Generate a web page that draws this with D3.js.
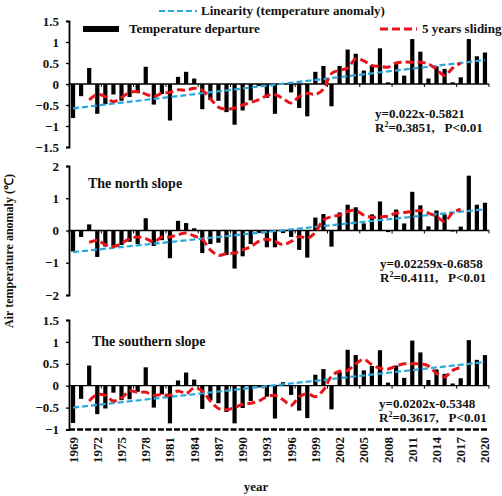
<!DOCTYPE html>
<html>
<head>
<meta charset="utf-8">
<script src="https://cdn.jsdelivr.net/npm/d3@7"></script>
<style>
  html, body { margin: 0; padding: 0; background: #fff; }
  svg text { font-family: "Liberation Serif", "Times New Roman", serif; font-weight: bold; fill: #111; }
</style>
</head>
<body>
<svg id="chart" width="502" height="496"></svg>
<script>
// ---------- DATA ----------
const years = [1969,1970,1971,1972,1973,1974,1975,1976,1977,1978,1979,1980,1981,1982,1983,1984,1985,1986,1987,1988,1989,1990,1991,1992,1993,1994,1995,1996,1997,1998,1999,2000,2001,2002,2003,2004,2005,2006,2007,2008,2009,2010,2011,2012,2013,2014,2015,2016,2017,2018,2019,2020];
const yearTickLabels = ["1969","1972","1975","1978","1981","1984","1987","1990","1993","1996","1999","2002","2005","2008","2011","2014","2017","2020"];

// whole area
const allDeparture = [-0.81,-0.29,0.38,-0.71,-0.48,-0.25,-0.4,-0.31,-0.22,0.41,-0.49,-0.24,-0.87,0.17,0.29,0.13,-0.6,-0.38,-0.4,-0.67,-0.97,-0.63,-0.39,-0.05,-0.33,-0.71,0.02,-0.2,-0.57,-0.77,0.29,0.43,-0.53,0.43,0.82,0.72,0.32,0.45,0.85,0.04,0.51,0.2,1.07,0.77,0.13,0.42,0.36,0.04,0.16,1.07,0.66,0.75];
const allSliding = [-0.38,-0.25,-0.3,-0.42,-0.32,-0.2,-0.18,-0.24,-0.3,-0.22,-0.2,-0.14,-0.15,-0.1,-0.15,-0.35,-0.55,-0.6,-0.57,-0.5,-0.44,-0.37,-0.28,-0.25,-0.35,-0.45,-0.3,-0.22,-0.25,-0.12,0.25,0.33,0.38,0.6,0.55,0.44,0.42,0.4,0.5,0.52,0.52,0.52,0.48,0.35,0.2,0.38,0.5];
const allTrend = [-0.58, 0.57];

// north slope
const northDeparture = [-0.65,-0.2,0.19,-0.82,-0.5,-0.5,-0.45,-0.35,-0.42,0.38,-0.48,-0.3,-0.86,0.3,0.23,0.07,-0.7,-0.42,-0.38,-0.76,-1.18,-0.8,-0.42,-0.08,-0.52,-0.52,-0.08,-0.2,-0.6,-0.84,0.4,0.51,-0.5,0.56,0.8,0.72,0.22,0.5,0.9,-0.05,0.65,0.22,1.2,0.78,0.13,0.62,0.5,-0.03,0.12,1.7,0.8,0.86];
const northSliding = [-0.37,-0.31,-0.44,-0.5,-0.4,-0.25,-0.2,-0.25,-0.35,-0.2,-0.2,-0.13,-0.08,-0.17,-0.28,-0.6,-0.77,-0.72,-0.7,-0.6,-0.5,-0.34,-0.27,-0.34,-0.44,-0.34,-0.19,-0.24,-0.06,0.33,0.43,0.48,0.59,0.62,0.48,0.41,0.42,0.44,0.54,0.56,0.59,0.62,0.54,0.43,0.28,0.55,0.66];
const northTrend = [-0.67, 0.66];

// southern slope
const southDeparture = [-0.85,-0.3,0.46,-0.65,-0.52,-0.16,-0.33,-0.31,-0.14,0.42,-0.5,-0.2,-0.86,0.12,0.3,0.14,-0.53,-0.33,-0.4,-0.6,-0.86,-0.51,-0.35,-0.04,-0.25,-0.75,0.08,-0.21,-0.57,-0.74,0.25,0.38,-0.54,0.32,0.82,0.7,0.35,0.45,0.81,0.07,0.46,0.18,1.03,0.76,0.13,0.37,0.27,0.05,0.17,1.04,0.59,0.7];
const southSliding = [-0.35,-0.2,-0.22,-0.35,-0.28,-0.12,-0.15,-0.15,-0.22,-0.2,-0.22,-0.12,-0.18,-0.05,-0.12,-0.35,-0.52,-0.55,-0.5,-0.42,-0.4,-0.35,-0.25,-0.22,-0.32,-0.45,-0.25,-0.18,-0.25,-0.1,0.22,0.33,0.35,0.5,0.6,0.48,0.4,0.38,0.45,0.5,0.5,0.5,0.45,0.28,0.2,0.35,0.42];
const southTrend = [-0.5, 0.54];

const slidingStartYear = 1971;

const legendLabels = ["Linearity (temperature anomaly)", "Temperature departure", "5 years sliding"];
const panelTitles = ["", "The north slope", "The southern slope"];
const equations = ["y=0.022x-0.5821", "y=0.02259x-0.6858", "y=0.0202x-0.5348"];
const rSquared = ["0.3851", "0.4111", "0.3617"];
const pText = "P<0.01";

const ticks1 = [-1.5,-1,-0.5,0,0.5,1,1.5];
const ticks2 = [-2,-1,0,1,2];
const ticks3 = [-1,-0.5,0,0.5,1,1.5];

// ---------- LAYOUT ----------
const svg = d3.select("#chart");
const X0 = 69, X1 = 489;
const x = d3.scaleBand().domain(years).range([X0, X1]).paddingInner(0.48).paddingOuter(0.24);
const xIdx = d3.scaleLinear().domain([0, years.length]).range([X0, X1]);
const cx = d => x(d) + x.bandwidth() / 2;

const BLUE = "#29a8dc", RED = "#e8141b";

const panels = [
  { dep: allDeparture, sl: allSliding, tr: allTrend, domain: [-1.5, 1.5], range: [147, 21], ticks: ticks1,
    title: panelTitles[0], eq: equations[0], r2: rSquared[0], eqX: 375, eqY: 118, tX: 0, tY: 0 },
  { dep: northDeparture, sl: northSliding, tr: northTrend, domain: [-2, 2], range: [295, 166], ticks: ticks2,
    title: panelTitles[1], eq: equations[1], r2: rSquared[1], eqX: 380, eqY: 268, tX: 88, tY: 188 },
  { dep: southDeparture, sl: southSliding, tr: southTrend, domain: [-1, 1.5], range: [429.5, 320], ticks: ticks3,
    title: panelTitles[2], eq: equations[2], r2: rSquared[2], eqX: 379, eqY: 408, tX: 92, tY: 346 }
];

panels.forEach((p, pi) => {
  const y = d3.scaleLinear().domain(p.domain).range(p.range);
  const g = svg.append("g");
  const y0 = y(0);

  // bars
  g.selectAll("rect.bar").data(p.dep).join("rect")
    .attr("x", (d, i) => x(years[i]))
    .attr("width", x.bandwidth())
    .attr("y", d => Math.min(y(d), y0))
    .attr("height", d => Math.abs(y(d) - y0))
    .attr("fill", "#000");

  // zero axis with ticks every 4 categories
  g.append("line").attr("x1", X0).attr("x2", X1).attr("y1", y0).attr("y2", y0)
    .attr("stroke", "#000").attr("stroke-width", 1.3);
  d3.range(0, years.length + 1, 4).forEach(k => {
    g.append("line").attr("x1", xIdx(k)).attr("x2", xIdx(k)).attr("y1", y0).attr("y2", y0 + 3)
      .attr("stroke", "#000").attr("stroke-width", 1);
  });

  // y axis
  const axis = d3.axisLeft(y).tickValues(p.ticks).tickSize(3).tickPadding(7)
    .tickFormat(d => d3.format("")(d));
  const ag = g.append("g").attr("transform", `translate(${X0},0)`).call(axis);
  ag.select(".domain").attr("stroke", "#000").attr("stroke-width", 1.8);
  ag.selectAll(".tick line").attr("stroke", "#000").attr("stroke-width", 1.3);
  ag.selectAll(".tick text").attr("font-size", 13).attr("font-family", "Liberation Serif").attr("font-weight", "bold").attr("fill", "#111");

  // trend line (endpoints)
  g.append("line")
    .attr("x1", cx(years[0])).attr("y1", y(p.tr[0]))
    .attr("x2", cx(years[years.length - 1])).attr("y2", y(p.tr[1]))
    .attr("stroke", BLUE).attr("stroke-width", 2.2).attr("stroke-dasharray", "6,3");

  // 5-year sliding
  const si = years.indexOf(slidingStartYear);
  const line = d3.line().x((d, i) => cx(years[si + i])).y(d => y(d)).curve(d3.curveCatmullRom.alpha(0.5));
  g.append("path").attr("d", line(p.sl)).attr("fill", "none")
    .attr("stroke", RED).attr("stroke-width", 3).attr("stroke-dasharray", "8,4");

  // equation text
  g.append("text").attr("x", p.eqX).attr("y", p.eqY).attr("font-size", 13).text(p.eq);
  const rt = g.append("text").attr("x", p.eqX).attr("y", p.eqY + 14).attr("font-size", 13).attr("xml:space", "preserve");
  rt.append("tspan").text("R");
  rt.append("tspan").attr("font-size", 8).attr("dy", -5).text("2");
  rt.append("tspan").attr("dy", 5).text("=" + p.r2 + ",   " + pText);

  if (p.title) {
    g.append("text").attr("x", p.tX).attr("y", p.tY).attr("font-size", 14).text(p.title);
  }
});

// bottom dashed axis of last panel
{
  const p = panels[2];
  const y = d3.scaleLinear().domain(p.domain).range(p.range);
  svg.append("line").attr("x1", X0).attr("x2", X1).attr("y1", y(-1)).attr("y2", y(-1))
    .attr("stroke", "#000").attr("stroke-width", 2.6)
    .attr("stroke-dasharray", `${x.step() - 2},2`);
}

// year labels
svg.selectAll("text.year").data(yearTickLabels).join("text")
  .attr("class", "year")
  .attr("transform", d => `translate(${cx(+d) + 4.5},437) rotate(-90)`)
  .attr("text-anchor", "end")
  .attr("font-size", 13)
  .text(d => d);

// axis titles
svg.append("text").attr("x", 256).attr("y", 491).attr("text-anchor", "middle").attr("font-size", 13).text("year");
svg.append("text").attr("transform", "translate(13,251) rotate(-90)").attr("text-anchor", "middle")
  .attr("font-size", 12).text("Air temperature anomaly (℃)");

// legend
svg.append("line").attr("x1", 159).attr("x2", 197).attr("y1", 11).attr("y2", 11)
  .attr("stroke", BLUE).attr("stroke-width", 2.2).attr("stroke-dasharray", "6,3");
svg.append("text").attr("x", 201).attr("y", 15).attr("font-size", 13).text(legendLabels[0]);
svg.append("rect").attr("x", 83).attr("y", 26).attr("width", 36).attr("height", 6).attr("fill", "#000");
svg.append("text").attr("x", 129).attr("y", 33).attr("font-size", 13).text(legendLabels[1]);
svg.append("line").attr("x1", 380).attr("x2", 417).attr("y1", 29).attr("y2", 29)
  .attr("stroke", RED).attr("stroke-width", 3).attr("stroke-dasharray", "8,4");
svg.append("text").attr("x", 422).attr("y", 33).attr("font-size", 13).text(legendLabels[2]);
</script>
</body>
</html>
